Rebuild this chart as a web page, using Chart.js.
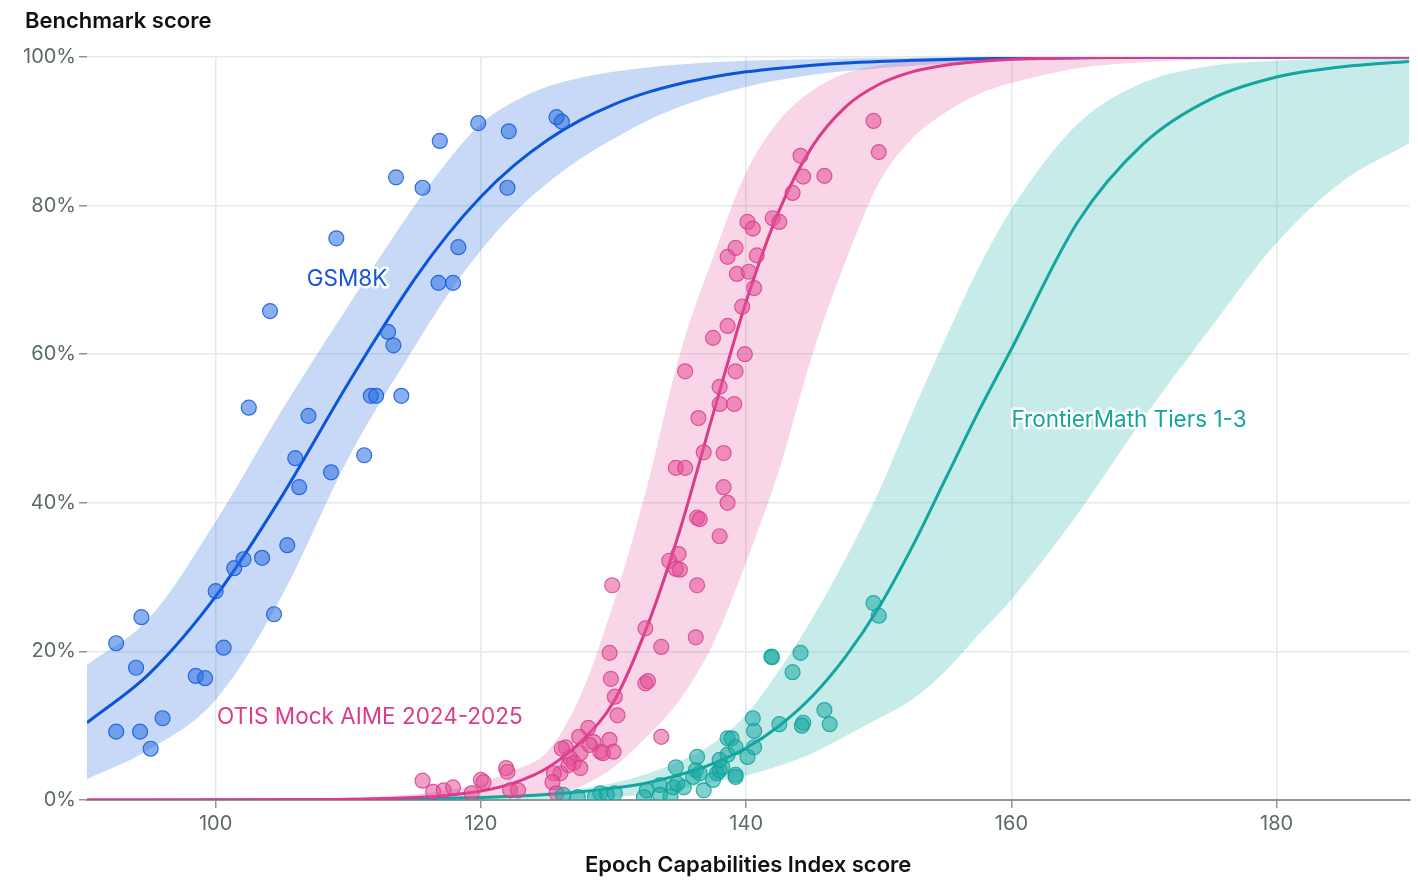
<!DOCTYPE html>
<html>
<head>
<meta charset="utf-8">
<script src="https://cdn.jsdelivr.net/npm/chart.js@4"></script>
<style>
  html, body { margin: 0; padding: 0; background: #fff; }
  #wrap { width: 1418px; height: 883px; }
</style>
</head>
<body>
<div id="wrap"><canvas id="chart"></canvas></div>
<script>
// Benchmark names, in drawing order
var benchmarks = ['GSM8K', 'OTIS Mock AIME 2024-2025', 'FrontierMath Tiers 1-3'];

var eci = [90.3, 95, 100, 105, 110, 115, 117.5, 120, 122.5, 125, 127.5, 130, 132.5, 135, 137.5,
           140, 142.5, 145, 147.5, 150, 152.5, 155, 157.5, 160, 165, 170, 175, 180, 185, 190];

// fitted curve, upper and lower edge of the band (percent)
var gsmFit  = [10.4, 17.0, 27.4, 40.9, 56.1, 70.1, 76.1, 81.2, 85.4, 88.8, 91.5, 93.6, 95.2, 96.4, 97.3,
               98.0, 98.5, 98.9, 99.2, 99.4, 99.55, 99.68, 99.76, 99.82, 99.9, 99.95, 99.97, 99.98, 99.99, 100];
var gsmHigh = [18.2, 24.5, 37.5, 52.5, 66.5, 80, 86, 91, 94, 96, 97.2, 98, 98.6, 99, 99.3,
               99.5, 99.6, 99.7, 99.8, 99.85, 99.9, 99.93, 99.96, 100, 100, 100, 100, 100, 100, 100];
var gsmLow  = [2.8, 6.8, 13.5, 27.5, 46, 61, 68, 74, 79, 83, 86.3, 89, 91.4, 93.3, 94.8,
               96, 96.9, 97.6, 98.1, 98.5, 98.8, 99.1, 99.3, 99.5, 99.7, 99.85, 99.9, 99.95, 100, 100];

var otisFit  = [0, 0, 0.01, 0.03, 0.1, 0.35, 0.65, 1.2, 2.3, 4.3, 7.8, 13.2, 23.2, 36.3, 51.9,
                67.1, 79.4, 88.0, 93.3, 96.3, 98.0, 98.9, 99.4, 99.7, 99.9, 99.97, 100, 100, 100, 100];
var otisHigh = [0, 0, 0.02, 0.05, 0.3, 0.8, 1.3, 2.3, 4, 6.5, 14, 26.5, 42, 60, 73,
                84.5, 91.5, 95.5, 97.8, 98.9, 99.4, 99.7, 99.85, 100, 100, 100, 100, 100, 100, 100];
var otisLow  = [0, 0, 0, 0, 0, 0.05, 0.1, 0.2, 0.4, 0.8, 1.8, 4.4, 8.5, 13.5, 21,
                32, 44.5, 60, 72.5, 83, 89, 92.5, 95, 96.5, 98.5, 99.3, 99.7, 99.9, 100, 100];

var frontierFit  = [0, 0.01, 0.02, 0.03, 0.07, 0.16, 0.24, 0.34, 0.5, 0.74, 1.1, 1.6, 2.3, 3.4, 4.9,
                    7.0, 10.0, 14.0, 19.3, 25.9, 34.0, 43.1, 52.2, 60.7, 77.8, 88.4, 94.3, 97.3, 98.7, 99.4];
var frontierHigh = [0, 0.01, 0.03, 0.05, 0.12, 0.25, 0.35, 0.5, 0.7, 1.0, 1.5, 2.3, 3.5, 5.2, 7.6,
                    11.5, 17.5, 24.5, 32.5, 41.5, 52, 62, 71.5, 79.5, 91, 96.6, 98.8, 99.5, 99.8, 100];
var frontierLow  = [0, 0, 0, 0, 0, 0, 0, 0.02, 0.05, 0.1, 0.2, 0.4, 0.8, 1.5, 2.4,
                    3.3, 4.6, 6.3, 8.6, 11.0, 13.5, 17.3, 22.2, 27, 38.5, 51.5, 63.5, 75, 83.3, 88.4];

// individual models: [ECI score, benchmark score %]
var gsmModels = [[92.5,21.1],[92.5,9.2],[94.0,17.8],[94.4,24.6],[94.3,9.2],[95.1,6.9],[96.0,11.0],
  [98.5,16.7],[99.2,16.4],[100.0,28.1],[100.6,20.5],[101.4,31.2],[102.1,32.4],[102.5,52.8],
  [103.5,32.6],[104.1,65.8],[104.4,25.0],[105.4,34.3],[106.0,46.0],[106.3,42.1],[107.0,51.7],
  [108.7,44.1],[109.1,75.6],[111.2,46.4],[111.7,54.4],[112.1,54.4],[113.0,63.0],[113.4,61.2],
  [113.6,83.8],[114.0,54.4],[115.6,82.4],[116.9,88.7],[116.8,69.6],[117.9,69.6],[118.3,74.4],
  [119.8,91.1],[122.0,82.4],[122.1,90.0],[125.7,91.9],[126.1,91.3]];

var otisModels = [[149.6,91.4],[150.0,87.2],[144.1,86.7],[144.3,83.9],[145.9,84.0],[143.5,81.7],
  [142.0,78.3],[142.5,77.8],[140.1,77.8],[140.5,76.9],[139.2,74.3],[138.6,73.1],[140.8,73.3],
  [139.3,70.8],[140.2,71.1],[140.6,68.9],[139.7,66.4],[138.6,63.8],[137.5,62.2],[139.9,60.0],
  [135.4,57.7],[139.2,57.7],[138.0,55.6],[138.0,53.3],[139.1,53.3],[136.4,51.4],[136.8,46.8],
  [138.3,46.7],[134.7,44.7],[135.4,44.7],[138.3,42.1],[138.6,40.0],[136.3,38.0],[136.5,37.8],
  [138.0,35.5],[134.9,33.1],[134.2,32.2],[134.7,31.1],[135.0,31.0],
  [129.9,28.9],[136.3,28.9],[132.4,23.1],[133.6,20.6],[136.2,21.9],[129.7,19.8],[129.8,16.3],
  [132.4,15.7],[132.6,16.0],[130.1,13.9],[130.3,11.4],[133.6,8.5],[128.1,9.7],[127.4,8.5],
  [126.4,7.1],[128.5,7.8],[129.0,6.5],[129.7,8.1],[130.0,6.5],[127.5,6.3],[126.7,5.7],
  [127.0,5.0],[127.5,4.3],[126.0,3.6],[126.1,6.9],[128.2,7.4],[129.2,6.3],[126.6,4.7],
  [125.5,3.6],[125.4,2.4],[125.7,0.9],[121.9,4.3],[122.0,3.8],[120.0,2.7],[120.2,2.4],
  [119.3,0.9],[122.2,1.3],[122.8,1.3],[115.6,2.6],[116.4,1.1],[117.2,1.3],[117.9,1.7]];

var frontierModels = [[126.2,0.7],[127.3,0.4],[128.6,0.4],[129.5,0.7],[130.1,0.9],[129.0,0.9],
  [132.3,0.4],[132.5,1.3],[133.5,2.0],[133.5,0.7],[134.3,0.5],[134.5,1.7],[134.8,2.2],[135.3,1.7],
  [134.7,4.4],[136.0,3.1],[136.8,1.3],[136.2,4.0],[136.3,5.8],[136.5,3.6],[137.5,2.7],[137.8,3.6],
  [138.0,4.0],[138.2,4.4],[138.0,5.4],[138.6,6.1],[138.6,8.3],[138.9,8.3],[139.2,7.1],[139.2,3.4],
  [139.2,3.1],[140.1,5.8],[140.6,7.1],[140.6,9.3],[140.5,11.0],[142.5,10.2],[144.3,10.4],
  [144.2,10.0],[145.9,12.1],[146.3,10.2],[143.5,17.2],[141.9,19.3],[141.95,19.2],[144.1,19.8],
  [149.6,26.5],[150.0,24.8]];

var xTicks = [100, 120, 140, 160, 180];
var yTicks = [0, 20, 40, 60, 80, 100];

var colors = {
  gsm:      { line: '#0a55db', band: 'rgba(40,110,220,0.26)', dot: 'rgba(40,110,225,0.55)', edge: 'rgba(20,90,220,0.85)' },
  otis:     { line: '#dc3a8a', band: 'rgba(225,70,145,0.22)', dot: 'rgba(228,80,152,0.55)', edge: 'rgba(215,60,140,0.8)' },
  frontier: { line: '#14a59e', band: 'rgba(20,170,165,0.24)', dot: 'rgba(25,170,165,0.55)', edge: 'rgba(10,160,150,0.8)' }
};

function toXY(xVals, yVals) {
  return xVals.map(function(x, i) { return { x: x, y: yVals[i] }; });
}
function pairs(list) {
  return list.map(function(p) { return { x: p[0], y: p[1] }; });
}

function band(high, low, c, order) {
  return [
    { type: 'line', data: toXY(eci, high), borderWidth: 0, pointRadius: 0, fill: '+1',
      backgroundColor: c.band, cubicInterpolationMode: 'monotone', order: order },
    { type: 'line', data: toXY(eci, low), borderWidth: 0, pointRadius: 0, fill: false,
      cubicInterpolationMode: 'monotone', order: order }
  ];
}
function curve(fit, c, order) {
  return { type: 'line', data: toXY(eci, fit), borderColor: c.line, borderWidth: 3, pointRadius: 0,
           fill: false, cubicInterpolationMode: 'monotone', order: order };
}
function dots(list, c, order) {
  return { type: 'scatter', data: pairs(list), backgroundColor: c.dot, borderColor: c.edge,
           borderWidth: 1.2, pointRadius: 7.5, clip: 0, order: order };
}

var datasets = []
  .concat(band(gsmHigh, gsmLow, colors.gsm, 33))
  .concat(band(otisHigh, otisLow, colors.otis, 32))
  .concat(band(frontierHigh, frontierLow, colors.frontier, 31))
  .concat([
    curve(gsmFit, colors.gsm, 23),
    curve(frontierFit, colors.frontier, 22),
    curve(otisFit, colors.otis, 21),
    dots(gsmModels, colors.gsm, 13),
    dots(otisModels, colors.otis, 12),
    dots(frontierModels, colors.frontier, 11)
  ]);

// series labels and the chart heading
var labelPlugin = {
  id: 'labels',
  afterDatasetsDraw: function(chart, args, opts) {
    var ctx = chart.ctx;
    var xs = chart.scales.x, ys = chart.scales.y;
    ctx.save();
    ctx.textBaseline = 'middle';
    ctx.font = '600 22px Inter';
    ctx.fillStyle = '#111';
    ctx.textAlign = 'left';
    ctx.fillText('Benchmark score', 25, 21);

    ctx.font = '22.5px Inter';
    ctx.lineJoin = 'round';
    ctx.lineWidth = 5;
    ctx.strokeStyle = '#fff';
    opts.items.forEach(function(it) {
      var px = xs.getPixelForValue(it.x), py = ys.getPixelForValue(it.y);
      ctx.textAlign = it.align;
      ctx.strokeText(it.text, px, py);
      ctx.fillStyle = it.color;
      ctx.fillText(it.text, px, py);
    });
    ctx.restore();
  }
};

var tickColor = '#5c6a6a';
var gridColor = '#e2eaea';

new Chart(document.getElementById('chart').getContext('2d'), {
  type: 'scatter',
  data: { datasets: datasets },
  options: {
    responsive: true,
    maintainAspectRatio: false,
    devicePixelRatio: 1,
    animation: false,
    events: [],
    layout: { padding: { top: 57, right: 8, left: 0, bottom: 0 } },
    plugins: {
      legend: { display: false },
      tooltip: { enabled: false },
      labels: {
        items: [
          { text: benchmarks[0], x: 109.9, y: 70.1, align: 'center', color: '#1656d6' },
          { text: benchmarks[1], x: 100.1, y: 11.2, align: 'left', color: '#dc3a8a' },
          { text: benchmarks[2], x: 160.0, y: 51.1, align: 'left', color: '#14a59e' }
        ]
      }
    },
    scales: {
      x: {
        type: 'linear',
        min: 90.3,
        max: 190,
        afterBuildTicks: function(s) { s.ticks = xTicks.map(function(v) { return { value: v }; }); },
        afterFit: function(s) { s.height = 83; },
        grid: { color: gridColor, lineWidth: 1.5, tickColor: '#8c9999', tickLength: 8 },
        border: { color: '#8c9999', width: 2 },
        ticks: { color: tickColor, font: { family: 'Inter', size: 20 }, padding: 4 },
        title: {
          display: true,
          text: 'Epoch Capabilities Index score',
          color: '#111',
          font: { family: 'Inter', size: 22, weight: '600' },
          padding: { top: 0, bottom: 4 }
        }
      },
      y: {
        min: 0,
        max: 100,
        afterBuildTicks: function(s) { s.ticks = yTicks.map(function(v) { return { value: v }; }); },
        afterFit: function(s) { s.width = 87; },
        grid: { color: gridColor, lineWidth: 1.5, tickColor: '#8c9999', tickLength: 8 },
        border: { display: false },
        ticks: {
          color: tickColor,
          font: { family: 'Inter', size: 20 },
          padding: 3,
          callback: function(v) { return v + '%'; }
        }
      }
    }
  },
  plugins: [labelPlugin]
});
</script>
</body>
</html>
